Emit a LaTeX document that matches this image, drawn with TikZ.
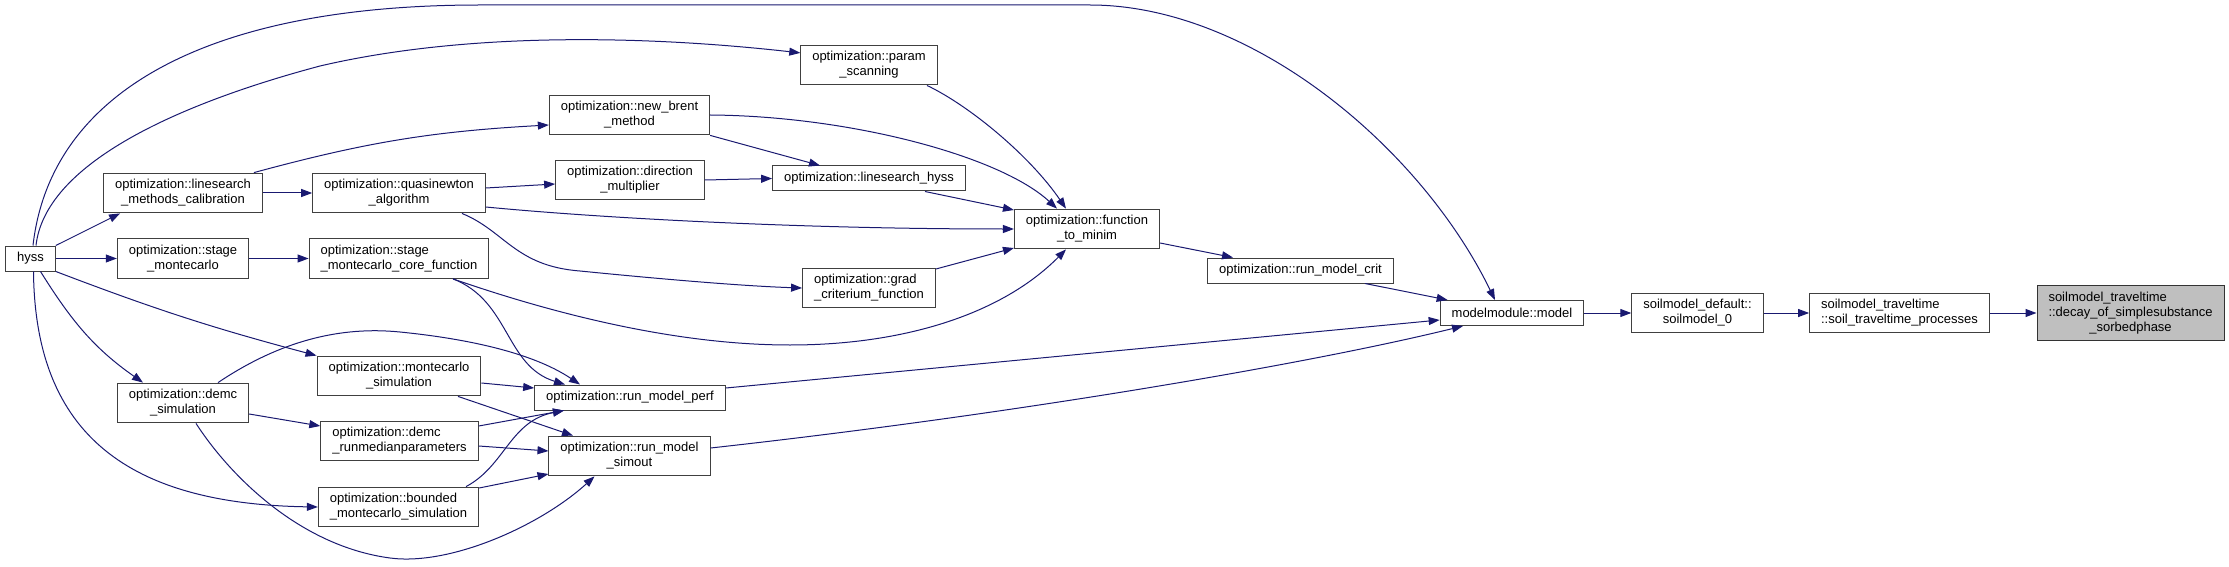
\documentclass[tikz,border=0pt]{standalone}
\usepackage{fontspec}
\setmainfont{Liberation Sans}
\usetikzlibrary{arrows.meta}
\definecolor{callblue}{HTML}{191970}
\definecolor{curgray}{HTML}{BFBFBF}

\begin{document}
\begin{tikzpicture}[x=1pt,y=1pt,
    fn/.style={draw=black!75, line width=1pt, fill=white, inner xsep=11.5pt, inner ysep=6.4pt,
      minimum height=25pt, align=center, font=\fontsize{13}{15}\selectfont},
    fnl/.style={fn, align=left},
    cur/.style={fn, fill=curgray, draw=black!80, align=left},
    call/.style={draw=callblue, line width=1pt, -{Triangle[length=11pt,width=8pt]}}]
  \useasboundingbox (0,0) rectangle (2229,566);

  % functions
  \node[fn]  (hyss)     at (30.5,307.5)  {hyss};
  \node[fn]  (lmc)      at (183,373)     {optimization::linesearch\\\_methods\_calibration};
  \node[fn]  (stmc)     at (183,307.5)   {optimization::stage\\\_montecarlo};
  \node[fn]  (demcsim)  at (183,163)     {optimization::demc\\\_simulation};
  \node[fn]  (qna)      at (399,373)     {optimization::quasinewton\\\_algorithm};
  \node[fnl] (stcore)   at (399,307.5)   {optimization::stage\\\_montecarlo\_core\_function};
  \node[fn]  (mcsim)    at (399,190)     {optimization::montecarlo\\\_simulation};
  \node[fnl] (demcrun)  at (399.5,125)   {optimization::demc\\\_runmedianparameters};
  \node[fnl] (bmcs)     at (398.5,59)    {optimization::bounded\\\_montecarlo\_simulation};
  \node[fn]  (brent)    at (629.5,451)   {optimization::new\_brent\\\_method};
  \node[fn]  (dirmul)   at (630,386)     {optimization::direction\\\_multiplier};
  \node[fn]  (rmperf)   at (630,168.5)   {optimization::run\_model\_perf};
  \node[fn]  (rmsim)    at (629.5,110)   {optimization::run\_model\\\_simout};
  \node[fn]  (pscan)    at (869,501)     {optimization::param\\\_scanning};
  \node[fn]  (lshyss)   at (869,387.5)   {optimization::linesearch\_hyss};
  \node[fnl] (gradcrit) at (869,278)     {optimization::grad\\\_criterium\_function};
  \node[fn]  (ftm)      at (1087,337)    {optimization::function\\\_to\_minim};
  \node[fn]  (rmcrit)   at (1300.5,295.5){optimization::run\_model\_crit};
  \node[fn]  (model)    at (1512,253)    {modelmodule::model};
  \node[fn]  (soil0)    at (1697.5,253)  {soilmodel\_default::\\soilmodel\_0};
  \node[fnl] (stp)      at (1899.5,253)  {soilmodel\_traveltime\\::soil\_traveltime\_processes};
  \node[cur] (decay)    at (2130.5,253)  {soilmodel\_traveltime\\::decay\_of\_simplesubstance\\\hfil\_sorbedphase};

  % calls out of hyss
  \draw[call] ([xshift=2.5pt]hyss.north) .. controls (50,470) and (200,561) .. (480,561)
    -- (1090,561) .. controls (1250,561) and (1420,420) .. ([xshift=-17pt]model.north);
  \draw[call] ([xshift=5.5pt]hyss.north) .. controls (45,400) and (170,460) .. (320,500)
    .. controls (470,535) and (650,530) .. (pscan.170);
  \draw[call] (hyss.north east) -- ([xshift=17pt]lmc.south west);
  \draw[call] (hyss.east) -- (stmc.west);
  \draw[call] (hyss.south east) to[bend right=3] (mcsim.north west);
  \draw[call] ([xshift=10pt]hyss.south) to[out=-58,in=145] ([xshift=-40pt]demcsim.north);
  \draw[call] ([xshift=3pt]hyss.south) .. controls (35,130) and (130,62) .. (bmcs.west);

  % optimization layer
  \draw[call] (lmc.east) -- (qna.west);
  \draw[call] ([xshift=-9pt]lmc.north east) to[bend left=6] ([yshift=-10pt]brent.west);
  \draw[call] ([yshift=5pt]qna.east) -- ([yshift=-4pt]dirmul.west);
  \draw[call] ([yshift=-14pt]qna.east) .. controls (600,348) and (800,337) .. (ftm.west);
  \draw[call] ([xshift=63pt]qna.south) .. controls (505,335) and (515,300) .. (580,295)
    .. controls (650,288) and (740,280) .. (gradcrit.west);
  \draw[call] (stmc.east) -- (stcore.west);
  \draw[call] ([xshift=54pt]stcore.south) .. controls (560,250) and (680,221) .. (790,221)
    .. controls (900,221) and (1000,250) .. ([xshift=-21pt]ftm.south);
  \draw[call] ([xshift=54pt]stcore.south) .. controls (510,265) and (505,200) .. ([xshift=-65pt]rmperf.north);
  \draw[call] ([xshift=35pt]demcsim.north) .. controls (280,225) and (340,240) .. (400,234)
    .. controls (460,228) and (530,215) .. ([xshift=-50pt]rmperf.north);
  \draw[call] ([yshift=-11pt]demcsim.east) -- ([yshift=15pt]demcrun.west);
  \draw[call] ([xshift=13pt]demcsim.south) .. controls (230,90) and (300,20) .. (390,8)
    .. controls (450,0) and (540,40) .. ([xshift=-35pt]rmsim.south);
  \draw[call] ([yshift=-7pt]mcsim.east) -- ([yshift=9.5pt]rmperf.west);
  \draw[call] ([xshift=59pt]mcsim.south) -- ([xshift=-56.5pt]rmsim.north);
  \draw[call] ([yshift=15pt]demcrun.east) -- ([xshift=-66pt]rmperf.south);
  \draw[call] ([yshift=-5pt]demcrun.east) -- ([yshift=5pt]rmsim.west);
  \draw[call] ([xshift=67.5pt]bmcs.north) .. controls (505,100) and (510,145) .. ([xshift=-66pt]rmperf.south);
  \draw[call] ([yshift=19pt]bmcs.east) -- ([yshift=-18pt]rmsim.west);
  \draw[call] (brent.east) .. controls (850,450) and (1000,410) .. ([xshift=-30pt]ftm.north);
  \draw[call] (brent.south east) -- ([xshift=-49pt]lshyss.north);
  \draw[call] (dirmul.east) -- (lshyss.west);
  \draw[call] ([xshift=56pt]lshyss.south) -- ([yshift=19pt]ftm.west);
  \draw[call] ([xshift=58pt]pscan.south) .. controls (970,460) and (1030,410) .. ([xshift=-21pt]ftm.north);
  \draw[call] ([yshift=19pt]gradcrit.east) -- ([yshift=-19pt]ftm.west);

  % model chain
  \draw[call] ([yshift=-14pt]ftm.east) -- ([xshift=-67.5pt]rmcrit.north);
  \draw[call] ([xshift=64.5pt]rmcrit.south) -- ([xshift=8pt]model.north west);
  \draw[call] ([yshift=9.5pt]rmperf.east) -- ([yshift=-7pt]model.west);
  \draw[call] ([yshift=8pt]rmsim.east) .. controls (1000,150) and (1300,200) .. ([xshift=-49pt]model.south);
  \draw[call] (model.east) -- (soil0.west);
  \draw[call] (soil0.east) -- (stp.west);
  \draw[call] (stp.east) -- (decay.west);
\end{tikzpicture}
\end{document}
